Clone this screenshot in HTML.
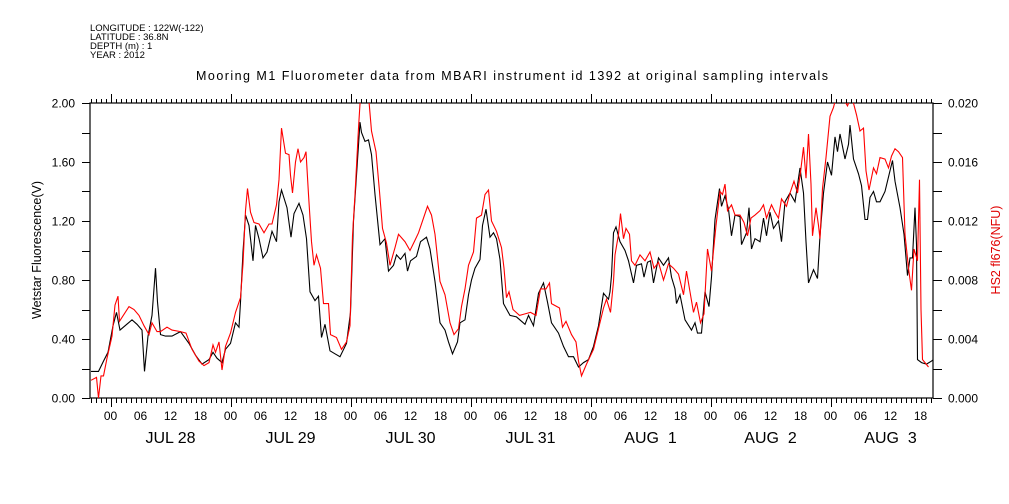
<!DOCTYPE html>
<html><head><meta charset="utf-8"><style>
body{margin:0;background:#fff;}
svg{display:block;font-family:"Liberation Sans",sans-serif;}
</style></head><body>
<svg id="chart" width="1009" height="504" viewBox="0 0 1009 504">
<rect width="1009" height="504" fill="#fff"/>
<g font-size="9.5" fill="#000">
<text x="90" y="31">LONGITUDE : 122W(-122)</text>
<text x="90" y="40">LATITUDE : 36.8N</text>
<text x="90" y="49">DEPTH (m) : 1</text>
<text x="90" y="58">YEAR : 2012</text>
</g>
<text x="512" y="80" font-size="12.5" text-anchor="middle" textLength="632">Mooring M1 Fluorometer data from MBARI instrument id 1392 at original sampling intervals</text>
<text transform="translate(41,250) rotate(-90)" font-size="12.5" text-anchor="middle">Wetstar Fluorescence(V)</text>
<text transform="translate(1000,250) rotate(-90)" font-size="12.5" text-anchor="middle" fill="#e00000">HS2 fl676(NFU)</text>
<defs><clipPath id="pc"><rect x="90" y="103" width="843" height="295"/></clipPath></defs>
<g id="axes"></g>
<g id="series" clip-path="url(#pc)"></g>
</svg>
<script>
const blackHours=[-3.9,-2.4,-1.4,-0.5,0.5,1.2,1.9,4.3,5.3,6.3,6.8,7.5,8.3,9.0,9.4,10,11,12.3,14,15.7,17,18.3,19.7,20.5,21.3,22.3,23,24,25,25.7,26,26.5,27,27.7,28.5,29,29.7,30.5,31.3,32.3,33.2,33.7,34.2,35.3,36.1,36.7,37.7,38.5,39.2,39.9,40.9,41.6,42.2,42.9,43.9,44.9,45.9,47.2,48,48.6,49.2,49.9,50.2,50.9,51.6,52.2,52.9,53.9,54.9,55.6,56.6,57.2,58,58.9,59.4,60,61.2,62,63.2,63.9,64.9,65.9,66.9,67.6,68.4,69.4,69.9,70.9,71.6,72.2,72.9,73.9,74.4,75.1,75.9,76.6,77.2,77.9,78.6,79.9,81.2,82.9,83.6,84.6,85.6,86.6,87.4,88.2,89.6,90.6,91.6,92.6,93.6,94.6,95.6,96.6,97.6,98.6,99.6,99.9,100.2,100.6,101.1,101.9,102.9,103.6,104.6,105.2,106.2,106.7,107.4,108,108.6,109.6,110.6,111.6,112.2,112.9,113.2,113.9,114.9,116.2,116.9,117.4,118.2,118.9,119.7,120.2,120.9,121.8,122.2,122.9,123.6,124.2,124.9,125.9,126.2,127.2,127.7,128.2,128.9,129.9,130.6,131.2,131.9,132.6,133.6,134.2,134.9,135.9,136.9,137.9,138.6,139.1,139.6,140.6,141.4,141.9,142.6,143.4,144.2,144.9,145.4,145.9,146.9,147.6,147.9,148.6,149.6,150.2,150.9,151.4,151.9,152.6,153.2,153.9,154.9,155.9,156.4,156.9,157.9,158.7,159.4,159.9,160.4,160.9,161.2,161.4,162.2,163.2,164.2,164.6];
const blackValues=[0.18,0.18,0.25,0.31,0.49,0.58,0.46,0.53,0.50,0.46,0.18,0.42,0.56,0.88,0.65,0.43,0.42,0.42,0.45,0.37,0.29,0.23,0.26,0.31,0.27,0.24,0.33,0.37,0.51,0.48,0.65,0.99,1.24,1.17,0.93,1.17,1.08,0.95,0.99,1.13,1.06,1.33,1.41,1.29,1.09,1.25,1.32,1.24,1.08,0.72,0.66,0.69,0.41,0.50,0.32,0.30,0.28,0.37,0.58,1.20,1.51,1.87,1.80,1.74,1.75,1.65,1.38,1.04,1.08,0.86,0.90,0.97,0.94,0.98,0.86,0.93,0.96,1.06,1.09,1.01,0.79,0.51,0.46,0.38,0.30,0.38,0.51,0.53,0.70,0.80,0.88,0.94,1.17,1.28,1.09,1.12,1.08,0.94,0.64,0.56,0.55,0.50,0.56,0.49,0.71,0.78,0.65,0.51,0.44,0.35,0.28,0.28,0.21,0.24,0.26,0.35,0.49,0.71,0.67,0.72,0.83,1.12,1.16,1.06,1.00,0.93,0.78,0.90,0.91,0.82,0.92,0.93,0.78,0.95,0.90,0.95,0.82,0.74,0.64,0.70,0.53,0.46,0.51,0.44,0.44,0.72,0.62,0.82,1.21,1.42,1.30,1.37,1.28,1.10,1.24,1.23,1.04,1.12,1.29,1.01,1.08,1.06,1.22,1.10,1.26,1.15,1.20,1.06,1.33,1.39,1.33,1.56,1.39,1.06,0.78,0.87,0.81,1.10,1.39,1.60,1.51,1.77,1.67,1.79,1.62,1.72,1.85,1.62,1.52,1.44,1.21,1.21,1.36,1.40,1.33,1.33,1.40,1.54,1.61,1.47,1.29,1.11,0.83,0.95,0.95,1.29,1.04,0.26,0.24,0.23,0.25,0.26];
const redHours=[-3.9,-2.8,-2.4,-1.9,-1.4,-0.7,0.3,0.9,1.5,1.8,3.7,4.7,5.7,6.7,7.7,8.3,9.3,10,11.3,12.3,14,15.1,16.3,17.7,18.7,19.7,20.5,21,21.7,22.3,23,24,25,26,26.5,27,27.4,28,28.7,29.7,30.7,31.7,32.3,33.2,33.7,34.2,35,35.7,36,36.4,37,37.5,38,38.7,39.1,39.6,40.2,40.7,41.2,42,42.6,43.6,44,45.2,46.2,47.2,47.9,48.4,48.9,49.6,50,51.6,52.2,53.1,53.8,54.4,55.2,55.9,56.9,57.6,58.9,59.9,60.9,61.6,62.6,63.4,64.2,64.9,65.9,66.9,67.9,68.7,69.6,70.2,70.9,71.6,72.6,73.2,74.2,74.9,75.6,76.2,77.2,78.2,78.7,79.2,79.7,80.5,81.8,82.9,84,85.1,86,87.1,87.8,88.2,89.8,90.4,91.1,92.2,93.1,93.6,94.2,95.2,96.6,97.6,98.6,99.2,100,100.6,100.9,101.6,102,102.6,103.1,103.8,104.2,104.9,105.9,106.9,107.9,108.7,109.6,110.6,111.6,112.6,113.6,114.6,115.2,115.9,116.6,117.2,118,118.7,119.4,120.2,121.1,121.9,122.4,122.9,123.4,124.2,124.9,125.9,126.7,127.4,128.1,128.9,129.9,130.6,131.2,132.2,132.9,133.6,134.2,135.2,135.9,136.7,137.4,138,138.6,139.1,139.6,140.1,140.4,141.1,141.6,141.9,142.4,143.1,143.9,144.6,145.2,146.2,147.4,148.2,149.2,149.9,150.6,151.1,151.7,152.6,153.2,153.9,154.9,155.6,156.2,156.9,157.6,158.4,158.9,159.6,160.2,160.7,161.4,161.8,162.1,162.4,162.9,163.6];
const redValues=[0.0012,0.0014,0.0000,0.0015,0.0015,0.0027,0.0042,0.0063,0.0069,0.0052,0.0062,0.0060,0.0056,0.0049,0.0043,0.0051,0.0045,0.0045,0.0048,0.0046,0.0045,0.0044,0.0033,0.0025,0.0022,0.0024,0.0036,0.0031,0.0038,0.0019,0.0035,0.0044,0.0058,0.0068,0.0091,0.0127,0.0142,0.0126,0.0119,0.0118,0.0112,0.0118,0.0118,0.0131,0.0148,0.0183,0.0166,0.0165,0.0151,0.0139,0.0160,0.0169,0.0160,0.0163,0.0167,0.0138,0.0106,0.0090,0.0097,0.0088,0.0064,0.0064,0.0043,0.0041,0.0033,0.0038,0.0049,0.0110,0.0138,0.0183,0.0205,0.0205,0.0181,0.0167,0.0140,0.0115,0.0105,0.0090,0.0102,0.0111,0.0106,0.0100,0.0107,0.0112,0.0122,0.0130,0.0124,0.0111,0.0079,0.0070,0.0051,0.0043,0.0047,0.0062,0.0074,0.0090,0.0099,0.0122,0.0124,0.0138,0.0141,0.0120,0.0113,0.0102,0.0088,0.0068,0.0072,0.0060,0.0056,0.0057,0.0058,0.0056,0.0074,0.0074,0.0078,0.0064,0.0061,0.0048,0.0052,0.0043,0.0038,0.0025,0.0015,0.0023,0.0033,0.0047,0.0061,0.0067,0.0058,0.0079,0.0097,0.0111,0.0125,0.0108,0.0115,0.0111,0.0093,0.0090,0.0097,0.0093,0.0099,0.0088,0.0092,0.0080,0.0091,0.0088,0.0084,0.0070,0.0086,0.0072,0.0058,0.0065,0.0051,0.0057,0.0101,0.0086,0.0117,0.0140,0.0138,0.0145,0.0127,0.0131,0.0124,0.0124,0.0119,0.0110,0.0122,0.0124,0.0127,0.0131,0.0122,0.0131,0.0126,0.0122,0.0135,0.0130,0.0139,0.0147,0.0139,0.0153,0.0170,0.0149,0.0179,0.0145,0.0110,0.0129,0.0117,0.0108,0.0142,0.0163,0.0191,0.0197,0.0205,0.0205,0.0198,0.0205,0.0192,0.0181,0.0183,0.0154,0.0141,0.0156,0.0152,0.0163,0.0162,0.0156,0.0164,0.0169,0.0167,0.0163,0.0111,0.0088,0.0073,0.0101,0.0093,0.0148,0.0060,0.0026,0.0024,0.0021];
const leftTicks=["0.00","0.40","0.80","1.20","1.60","2.00"];
const rightTicks=["0.000","0.004","0.008","0.012","0.016","0.020"];
const hourLabels=["00","06","12","18"];
const dayLabels=["JUL 28","JUL 29","JUL 30","JUL 31","AUG  1","AUG  2","AUG  3"];

const X0=90,X1=933,Y0=398,Y1=103;
const xOf=h=>110.5+h*5;
const yL=v=>Y0-(v/2)*(Y0-Y1);
const yR=v=>Y0-(v/0.02)*(Y0-Y1);
const NS='http://www.w3.org/2000/svg';
function mk(tag,attrs,parent){const e=document.createElementNS(NS,tag);for(const k in attrs)e.setAttribute(k,attrs[k]);parent.appendChild(e);return e;}
const ax=document.getElementById('axes');
const frame=mk('rect',{x:X0,y:Y1,width:X1-X0,height:Y0-Y1,fill:'none',stroke:'#000','stroke-width':1.2},ax);


let d='';
for(let h=-4;h<=164;h++){const x=Math.round(xOf(h))+0.5;if(x<X0||x>X1)continue;const big=((h%24)+24)%24===0;
 d+=`M${x},${Y0}V${Y0+(big?9:5)}M${x},${Y1}V${Y1-(big?9:4)}`;}
for(let i=0;i<=10;i++){const y=Math.round(yL(i*0.2))+0.5;d+=`M${X0-8},${y}H${X0}M${X1},${y}H${X1+9}`;}
const tk=mk('path',{d:d,stroke:'#000','stroke-width':1,fill:'none'},ax);


leftTicks.forEach((t,i)=>{const e=mk('text',{x:75,y:yL(i*0.4)+4.5,'font-size':12,'text-anchor':'end'},ax);e.textContent=t;
 
 });
rightTicks.forEach((t,i)=>{const e=mk('text',{x:948,y:yR(i*0.004)+4.5,'font-size':12},ax);e.textContent=t;
 
 });
for(let h=0;h<=162;h+=6){const e=mk('text',{x:xOf(h),y:420,'font-size':12,'text-anchor':'middle'},ax);e.textContent=hourLabels[(h/6)%4];
 
 }
dayLabels.forEach((t,i)=>{const e=mk('text',{x:xOf(i*24+12),y:443,'font-size':16,'text-anchor':'middle'},ax);e.textContent=t;
 e.style.whiteSpace='pre';
 
 });
const sg=document.getElementById('series');
function line(hs,vs,yf,color,name){const pts=hs.map((h,i)=>xOf(h).toFixed(1)+','+yf(vs[i]).toFixed(1)).join(' ');
 const p=mk('polyline',{points:pts,fill:'none',stroke:color,'stroke-width':1.1,'stroke-linejoin':'miter'},sg);
 
 }
line(blackHours,blackValues,yL,'#000','wetstar-fluorescence-line');
line(redHours,redValues,yR,'#ff0000','hs2-fl676-line');
</script>
</body></html>
